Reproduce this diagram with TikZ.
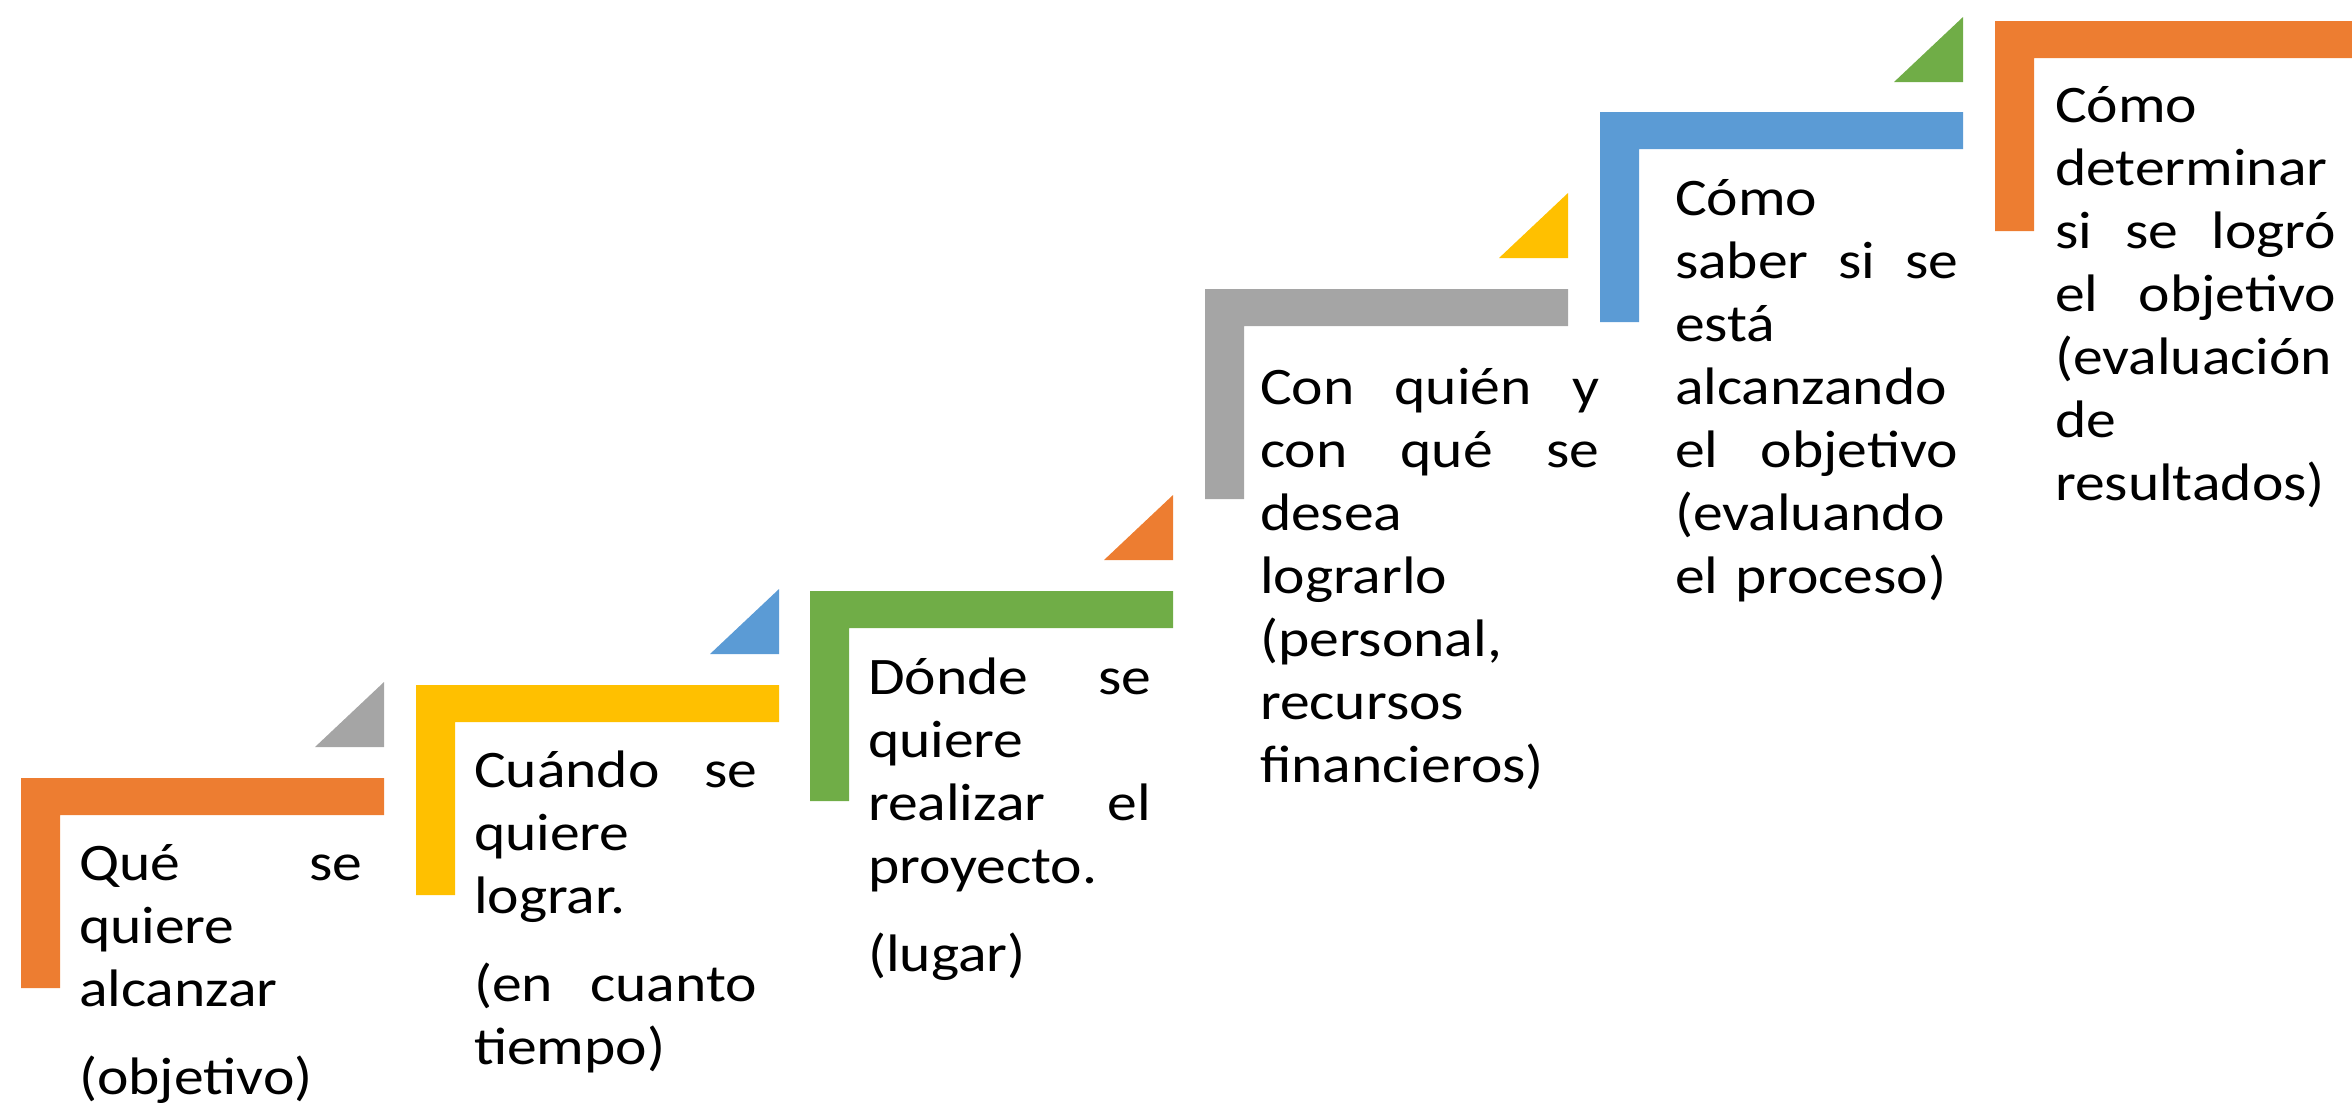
\documentclass[tikz,border=0pt]{standalone}
\usepackage{fontspec}
\setmainfont[FakeStretch=1.13]{Carlito}
\definecolor{cOrange}{HTML}{ED7D31}
\definecolor{cGray}{HTML}{A5A5A5}
\definecolor{cYellow}{HTML}{FFC000}
\definecolor{cBlue}{HTML}{5B9BD5}
\definecolor{cGreen}{HTML}{70AD47}
\tikzset{
  lbl/.style={anchor=base west, inner sep=0pt, outer sep=0pt, align=left,
    text width=#1, font=\fontsize{15pt}{17.93pt}\selectfont},
  lbl/.default=2.83cm
}
% L-shaped bracket: #1 colour, (#2,#3) top-left corner in px
\newcommand{\stairbar}[3]{%
  \fill[#1] (#2,#3) -- ++(363,0) -- ++(0,37) -- ++(-324,0) -- ++(0,173) -- ++(-39,0) -- cycle;}
% triangle: #1 colour, (#2,#3) bottom-right corner in px
\newcommand{\stairtri}[3]{%
  \fill[#1] (#2,#3) -- ++(-69,0) -- ++(69,-65) -- cycle;}
\begin{document}
\begin{tikzpicture}[x=0.01cm, y=-0.01cm]
\useasboundingbox (0,0) rectangle (2352,1102);
\clip (0,0) rectangle (2352,1102);
% step 1
\stairbar{cOrange}{21}{778}
\stairtri{cGray}{384}{747}
\node[lbl] (t1) at (79,880) {Qué \hfill se\\ quiere\\ alcanzar\\[0.25cm] (objetivo)};
% step 2
\stairbar{cYellow}{416}{685}
\stairtri{cBlue}{779}{654}
\node[lbl] (t2) at (474,787) {Cuándo \hfill se\\ quiere\\ lograr.\\[0.25cm] (en \hfill cuanto\\ tiempo)};
% step 3
\stairbar{cGreen}{810}{591}
\stairtri{cOrange}{1173}{560}
\node[lbl] (t3) at (868,694) {Dónde \hfill se\\ quiere\\ realizar \hfill el\\ proyecto.\\[0.25cm] (lugar)};
% step 4
\stairbar{cGray}{1205}{289}
\stairtri{cYellow}{1568}{258}
\node[lbl=3.39cm] (t4) at (1260,404) {Con \hfill quién \hfill y\\ con \hfill qué \hfill se\\ desea\\ lograrlo\\ (personal,\\ recursos\\ financieros)};
% step 5
\stairbar{cBlue}{1600}{112}
\stairtri{cGreen}{1963}{82}
\node[lbl] (t5) at (1675,215) {Cómo\\ saber \hfill si \hfill se\\ está\\ alcanzando\\ el \hfill objetivo\\ (evaluando\\ el proceso)};
% step 6
\stairbar{cOrange}{1995}{21}
\node[lbl=2.81cm] (t6) at (2055,122) {Cómo\\ determinar\\ si \hfill se \hfill logró\\ el \hfill objetivo\\ (evaluación\\ de\\ resultados)};
\end{tikzpicture}
\end{document}
